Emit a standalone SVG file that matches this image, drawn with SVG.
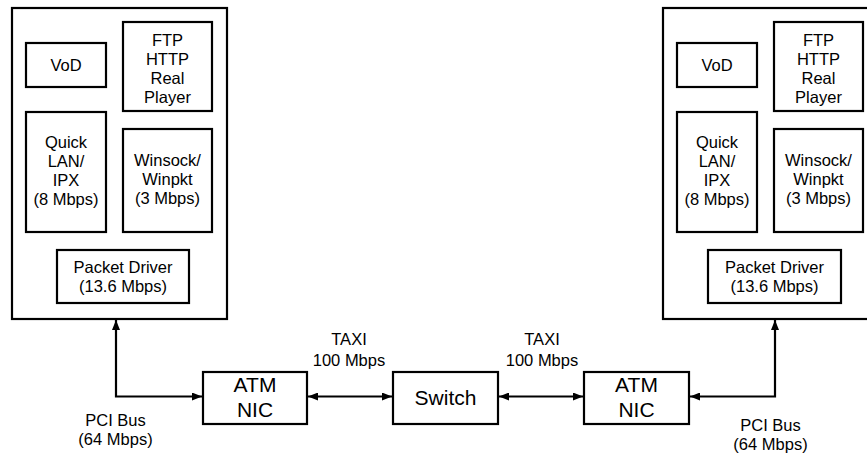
<svg xmlns="http://www.w3.org/2000/svg" width="867" height="455" viewBox="0 0 867 455">
<defs>
<marker id="ah" markerWidth="10" markerHeight="8" refX="10" refY="4" orient="auto-start-reverse" markerUnits="userSpaceOnUse">
<path d="M0,0 L10,4 L0,8 Z" fill="#000"/>
</marker>
<style>
rect{fill:#fff;stroke:#000;stroke-width:2.2}
text{font-family:"Liberation Sans",Arial,sans-serif;font-size:16.5px;fill:#000;text-anchor:middle}
.big{font-size:21px}
.c{fill:none;stroke:#000;stroke-width:2.2}
</style>
</defs>
<g id="host-left">
<rect x="12" y="8" width="215" height="311"/>
<g id="vod-left"><rect x="26" y="43" width="80" height="44"/><text x="66" y="71">VoD</text></g>
<g id="ftp-left"><rect x="123" y="22" width="89" height="89"/><text x="167.5" y="46">FTP</text><text x="167.5" y="65">HTTP</text><text x="167.5" y="84">Real</text><text x="167.5" y="103">Player</text></g>
<g id="quicklan-left"><rect x="26" y="112" width="80" height="120"/><text x="66" y="148">Quick</text><text x="66" y="167">LAN/</text><text x="66" y="186">IPX</text><text x="66" y="205">(8 Mbps)</text></g>
<g id="winsock-left"><rect x="123" y="129" width="89" height="103"/><text x="167.5" y="166">Winsock/</text><text x="167.5" y="185">Winpkt</text><text x="167.5" y="204">(3 Mbps)</text></g>
<g id="pktdrv-left"><rect x="57" y="250" width="132" height="53"/><text x="123" y="273">Packet Driver</text><text x="123" y="292">(13.6 Mbps)</text></g>
</g>
<g id="host-right">
<rect x="663" y="8" width="215" height="311"/>
<g id="vod-right"><rect x="677" y="43" width="80" height="44"/><text x="717" y="71">VoD</text></g>
<g id="ftp-right"><rect x="774" y="22" width="89" height="89"/><text x="818.5" y="46">FTP</text><text x="818.5" y="65">HTTP</text><text x="818.5" y="84">Real</text><text x="818.5" y="103">Player</text></g>
<g id="quicklan-right"><rect x="677" y="112" width="80" height="120"/><text x="717" y="148">Quick</text><text x="717" y="167">LAN/</text><text x="717" y="186">IPX</text><text x="717" y="205">(8 Mbps)</text></g>
<g id="winsock-right"><rect x="774" y="129" width="89" height="103"/><text x="818.5" y="166">Winsock/</text><text x="818.5" y="185">Winpkt</text><text x="818.5" y="204">(3 Mbps)</text></g>
<g id="pktdrv-right"><rect x="708" y="250" width="133" height="53"/><text x="774.5" y="273">Packet Driver</text><text x="774.5" y="292">(13.6 Mbps)</text></g>
</g>
<g id="atmnic-left"><rect x="203" y="372" width="104" height="52"/><text class="big" x="255" y="392">ATM</text><text class="big" x="255" y="417">NIC</text></g>
<g id="switch"><rect x="393" y="372" width="105" height="52"/><text class="big" x="445.5" y="405">Switch</text></g>
<g id="atmnic-right"><rect x="584" y="372" width="105" height="52"/><text class="big" x="636.5" y="392">ATM</text><text class="big" x="636.5" y="417">NIC</text></g>
<g id="connectors">
<path class="c" d="M116,320 V396.5 H202" marker-start="url(#ah)" marker-end="url(#ah)"/>
<path class="c" d="M308,396.5 H392" marker-start="url(#ah)" marker-end="url(#ah)"/>
<path class="c" d="M499,396.5 H583" marker-start="url(#ah)" marker-end="url(#ah)"/>
<path class="c" d="M690,396.5 H775 V320" marker-start="url(#ah)" marker-end="url(#ah)"/>
</g>
<g id="labels">
<text x="349" y="345">TAXI</text><text x="349" y="366">100 Mbps</text>
<text x="542" y="345">TAXI</text><text x="542" y="366">100 Mbps</text>
<text x="115.5" y="426">PCI Bus</text><text x="115.5" y="445">(64 Mbps)</text>
<text x="770.5" y="431">PCI Bus</text><text x="770.5" y="450">(64 Mbps)</text>
</g>
</svg>
